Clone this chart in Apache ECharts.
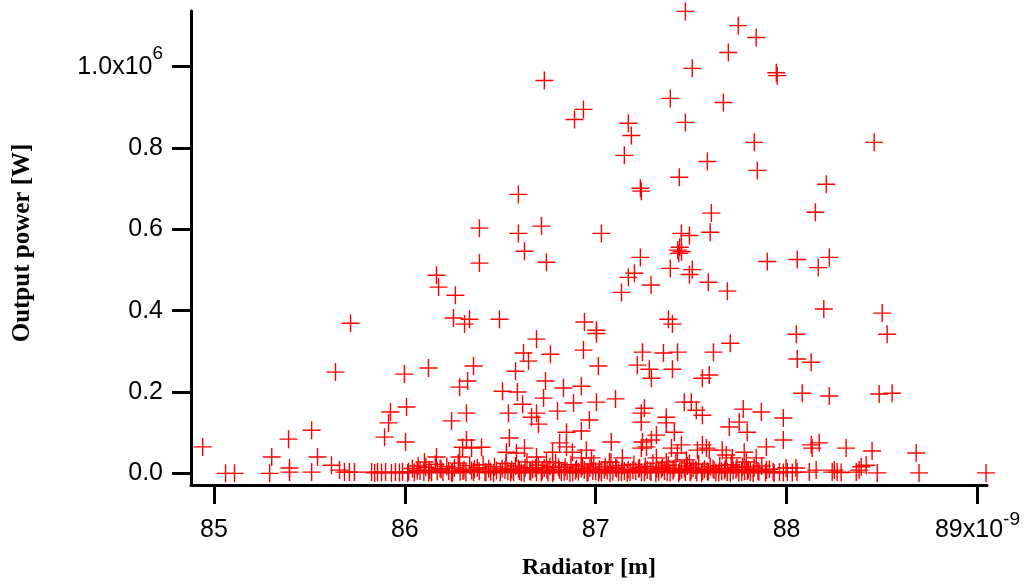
<!DOCTYPE html>
<html><head><meta charset="utf-8">
<script src="https://cdn.jsdelivr.net/npm/echarts@6/dist/echarts.min.js"></script>
<style>html,body{margin:0;padding:0;background:#fff}#c{width:1025px;height:585px}</style>
</head><body><div id="c"></div>
<script>
// Radiator in units of 1e-9 m, output power in units of 1e6 W
const xTicks = [85, 86, 87, 88, 89];
const yTicks = [0, 0.2, 0.4, 0.6, 0.8, 1.0];

const pointsUpper = [
[87.470,1.136],[87.747,1.101],[87.841,1.072],[87.695,1.035],[87.506,0.996],[86.731,0.966],[87.946,0.985],[87.951,0.978],
[86.936,0.895],[86.889,0.870],[87.391,0.922],[87.669,0.912],[87.470,0.863],[87.171,0.861],[87.187,0.831],[87.150,0.782],
[87.585,0.767],[87.831,0.814],[88.459,0.814],[87.438,0.728],[87.847,0.745],[87.234,0.701],[87.239,0.694],[86.595,0.686],
[88.208,0.711],[87.606,0.640],[88.151,0.642],[86.391,0.603],[86.595,0.590],[86.716,0.608],[87.030,0.590],[87.449,0.590],
[87.491,0.585],[87.600,0.593],[87.440,0.556],[87.430,0.549],[87.450,0.545],[87.435,0.541],[86.627,0.546],[86.391,0.517],
[86.742,0.519],[86.166,0.487],[86.177,0.458],[86.265,0.438],[85.716,0.369],[86.255,0.382],[86.339,0.379],[86.313,0.367],
[86.496,0.379],[86.941,0.372],[86.690,0.330],[86.622,0.296],[86.648,0.276],[86.763,0.293],[86.936,0.303],[85.637,0.249],
[85.998,0.244],[86.124,0.259],[86.360,0.264],[86.580,0.251],[86.329,0.227],[86.287,0.212],[86.512,0.202],[86.590,0.200],
[86.737,0.227],[86.831,0.210],[86.925,0.214],[86.727,0.185],[86.617,0.170],[86.884,0.173],[85.925,0.151],[86.009,0.163],
[85.915,0.124],[86.323,0.148],[86.245,0.129],[86.543,0.148],[86.690,0.148],[86.664,0.138],[86.700,0.121],[86.800,0.153],
[85.512,0.106],[85.391,0.084],[85.894,0.089],[86.847,0.101],[86.925,0.104],[86.967,0.131]
];

const pointsRight = [
[87.234,0.531],[87.391,0.504],[87.506,0.501],[87.491,0.489],[87.899,0.521],[88.056,0.526],[88.224,0.531],[88.166,0.506],
[87.171,0.482],[87.203,0.492],[87.135,0.445],[87.290,0.463],[87.590,0.470],[87.690,0.448],[88.195,0.404],[88.501,0.394],
[87.381,0.379],[87.402,0.367],[87.004,0.352],[87.004,0.344],[88.051,0.342],[88.527,0.342],[87.245,0.298],[87.355,0.296],
[87.429,0.298],[87.617,0.298],[87.705,0.320],[88.056,0.281],[88.129,0.273],[87.014,0.264],[87.218,0.266],[87.281,0.256],
[87.292,0.234],[87.402,0.256],[87.559,0.234],[87.595,0.242],[88.082,0.197],[88.224,0.190],[88.485,0.195],[88.553,0.197],
[87.004,0.175],[87.104,0.183],[87.255,0.160],[87.239,0.148],[87.239,0.126],[87.464,0.175],[87.501,0.175],[87.527,0.155],
[87.559,0.143],[87.773,0.158],[87.868,0.151],[87.983,0.136],[87.370,0.138],[87.370,0.124],[87.412,0.101],[87.700,0.114],
[87.752,0.126],[87.794,0.101]
];

const pointsLow = [
[84.941,0.065],[85.061,0.000],[85.108,0.000],[85.303,0.040],[85.292,0.000],[85.396,0.013],[85.396,0.003],[85.543,0.040],
[85.512,0.003],[85.616,0.020],[85.658,0.008],[85.684,0.003],[85.710,0.003],[85.736,0.003],[85.826,0.003],[85.842,0.001],
[85.857,0.003],[85.878,0.002],[85.899,0.003],[85.930,0.001],[85.951,0.003],[85.972,0.002],[85.988,0.003],[86.004,0.077],
[86.323,0.082],[86.350,0.062],[86.402,0.064],[86.303,0.064],[86.287,0.040],[86.166,0.040],[86.103,0.028],[86.548,0.087],
[86.532,0.052],[86.585,0.050],[86.627,0.062],[86.690,0.040],[86.742,0.028],[86.811,0.075],[86.847,0.065],[86.878,0.052],
[86.774,0.052],[86.951,0.057],[86.925,0.038],[86.978,0.038],[87.082,0.077],[87.245,0.077],[87.239,0.062],[87.266,0.065],
[87.318,0.094],[87.292,0.082],[87.397,0.062],[87.428,0.050],[87.449,0.070],[87.559,0.070],[87.580,0.062],[87.595,0.057],
[87.533,0.057],[87.663,0.057],[87.684,0.045],[87.716,0.038],[87.778,0.052],[87.789,0.028],[87.894,0.065],[87.841,0.038],
[87.983,0.082],[87.140,0.038],[87.072,0.028],[87.318,0.038],[87.370,0.028],[87.475,0.033],[87.491,0.025],[88.129,0.070],
[88.171,0.075],[88.134,0.062],[88.312,0.062],[88.448,0.055],[88.679,0.050],[88.417,0.020],[88.475,0.001],[88.694,0.001],
[89.045,0.001],[87.997,0.013],[88.049,0.013],[87.963,0.003],[87.983,0.002],[88.004,0.003],[88.030,0.002],[88.055,0.003],
[88.155,0.008],[88.119,0.003],[88.250,0.008],[88.265,0.003],[88.286,0.002],[88.239,0.003],[88.365,0.003],[88.380,0.008],
[88.391,0.016]
];

const pointsBand = [
[86.02,0.004],[86.04,0.012],[86.05,0.002],[86.07,0.018],[86.08,0.006],[86.10,0.003],[86.11,0.015],[86.13,0.008],
[86.14,0.002],[86.16,0.022],[86.17,0.005],[86.19,0.010],[86.20,0.003],[86.22,0.017],[86.23,0.006],[86.25,0.002],
[86.26,0.013],[86.28,0.025],[86.29,0.004],[86.31,0.009],[86.32,0.002],[86.34,0.019],[86.35,0.007],[86.36,0.003],
[86.38,0.014],[86.39,0.005],[86.41,0.021],[86.42,0.002],[86.44,0.011],[86.45,0.004],[86.47,0.016],[86.48,0.007],
[86.50,0.002],[86.51,0.012],[86.53,0.024],[86.54,0.005],[86.56,0.009],[86.57,0.003],[86.58,0.018],[86.60,0.006],
[86.61,0.002],[86.63,0.014],[86.64,0.028],[86.66,0.004],[86.67,0.010],[86.69,0.003],[86.70,0.020],[86.72,0.007],
[86.73,0.013],[86.75,0.002],[86.76,0.017],[86.78,0.005],[86.79,0.026],[86.81,0.009],[86.82,0.003],[86.84,0.015],
[86.85,0.006],[86.87,0.021],[86.88,0.002],[86.90,0.011],[86.91,0.004],[86.93,0.018],[86.94,0.008],[86.96,0.003],
[86.97,0.013],[86.99,0.023],[87.00,0.005],[87.02,0.010],[87.03,0.002],[87.05,0.016],[87.06,0.007],[87.08,0.027],
[87.09,0.004],[87.11,0.012],[87.12,0.002],[87.14,0.019],[87.15,0.006],[87.17,0.009],[87.18,0.003],[87.20,0.022],
[87.21,0.005],[87.23,0.014],[87.24,0.002],[87.26,0.017],[87.27,0.008],[87.29,0.003],[87.30,0.025],[87.32,0.011],
[87.33,0.004],[87.35,0.015],[87.36,0.006],[87.38,0.020],[87.39,0.002],[87.41,0.012],[87.42,0.030],[87.44,0.005],
[87.45,0.009],[87.47,0.003],[87.48,0.018],[87.50,0.007],[87.51,0.013],[87.53,0.002],[87.54,0.023],[87.56,0.006],
[87.57,0.010],[87.59,0.004],[87.60,0.016],[87.62,0.008],[87.63,0.002],[87.65,0.019],[87.66,0.005],[87.68,0.012],
[87.69,0.003],[87.71,0.021],[87.72,0.007],[87.74,0.014],[87.75,0.002],[87.77,0.017],[87.78,0.005],[87.80,0.009],
[87.81,0.003],[87.83,0.013],[87.85,0.006],[87.87,0.018],[87.89,0.002],[87.91,0.010],[87.93,0.004],
[86.015,0.001],[86.065,0.007],[86.125,0.002],[86.185,0.012],[86.245,0.001],[86.305,0.006],[86.365,0.010],[86.425,0.003],
[86.465,0.001],[86.525,0.008],[86.555,0.002],[86.595,0.011],[86.625,0.001],[86.655,0.006],[86.685,0.013],[86.715,0.002],
[86.745,0.008],[86.775,0.001],[86.805,0.015],[86.835,0.004],[86.865,0.001],[86.895,0.007],[86.925,0.012],[86.955,0.001],
[86.985,0.006],[87.015,0.002],[87.045,0.009],[87.075,0.001],[87.105,0.014],[87.135,0.003],[87.165,0.001],[87.195,0.008],
[87.225,0.011],[87.255,0.002],[87.285,0.006],[87.315,0.001],[87.345,0.010],[87.375,0.003],[87.405,0.007],[87.435,0.001],
[87.465,0.012],[87.495,0.002],[87.525,0.008],[87.555,0.001],[87.585,0.005],[87.615,0.011],[87.645,0.002],[87.675,0.007],
[87.705,0.001],[87.735,0.009],[87.765,0.003],[87.795,0.006],[87.825,0.001],[87.855,0.004],[87.895,0.008],[87.935,0.001]
];

const sansFont = '"Liberation Sans", Arial, sans-serif';
const serifFont = '"Liberation Serif", "Times New Roman", serif';
const plusSymbol = 'path://M0,-10 L0,10 M-10,0 L10,0';

const chart = echarts.init(document.getElementById('c'), null, { renderer: 'canvas' });

function scatterSeries(data) {
  return {
    type: 'scatter',
    data: data,
    symbol: plusSymbol,
    symbolSize: 18,
    clip: false,
    itemStyle: { color: 'none', borderColor: '#ff0000', borderWidth: 1.4, opacity: 1 },
    emphasis: { disabled: true },
    silent: true
  };
}

const option = {
  animation: false,
  backgroundColor: '#ffffff',
  grid: { left: 191, top: 11, width: 796, height: 474, containLabel: false },
  xAxis: {
    type: 'value', min: 84.88, max: 89.05,
    axisLine: { show: true, onZero: false, lineStyle: { color: '#000', width: 3 } },
    axisTick: { show: true, customValues: xTicks, length: 19, inside: false, lineStyle: { color: '#000', width: 3 } },
    axisLabel: {
      show: true, customValues: xTicks, margin: 23, color: '#000',
      formatter: v => v === 89 ? '{n|89x10}{s|-9}' : '{n|' + v + '}',
      rich: {
        n: { fontFamily: sansFont, fontSize: 25, color: '#000', lineHeight: 44 },
        s: { fontFamily: sansFont, fontSize: 19, color: '#000', padding: [0, 0, 20, 0] }
      }
    },
    splitLine: { show: false },
    name: 'Radiator [m]', nameLocation: 'middle', nameGap: 71,
    nameTextStyle: { fontFamily: serifFont, fontWeight: 'bold', fontSize: 24, color: '#000' }
  },
  yAxis: {
    type: 'value', min: -0.0287, max: 1.137,
    axisLine: { show: true, onZero: false, lineStyle: { color: '#000', width: 3 } },
    axisTick: { show: true, customValues: yTicks, length: 19, inside: false, lineStyle: { color: '#000', width: 3 } },
    axisLabel: {
      show: true, customValues: yTicks, margin: 28, color: '#000',
      formatter: v => Math.abs(v - 1) < 1e-9 ? '{n|1.0x10}{s|6}' : '{n|' + v.toFixed(1) + '}',
      rich: {
        n: { fontFamily: sansFont, fontSize: 25, color: '#000' },
        s: { fontFamily: sansFont, fontSize: 19, color: '#000', padding: [0, 0, 25, 0] }
      }
    },
    splitLine: { show: false },
    name: 'Output power [W]', nameLocation: 'middle', nameGap: 156,
    nameTextStyle: { fontFamily: serifFont, fontWeight: 'bold', fontSize: 25, color: '#000', padding: [0, 0, 0, 10] }
  },
  series: [
    scatterSeries(pointsBand),
    scatterSeries(pointsLow),
    scatterSeries(pointsRight),
    scatterSeries(pointsUpper)
  ]
};
chart.setOption(option);
</script>
</body></html>
